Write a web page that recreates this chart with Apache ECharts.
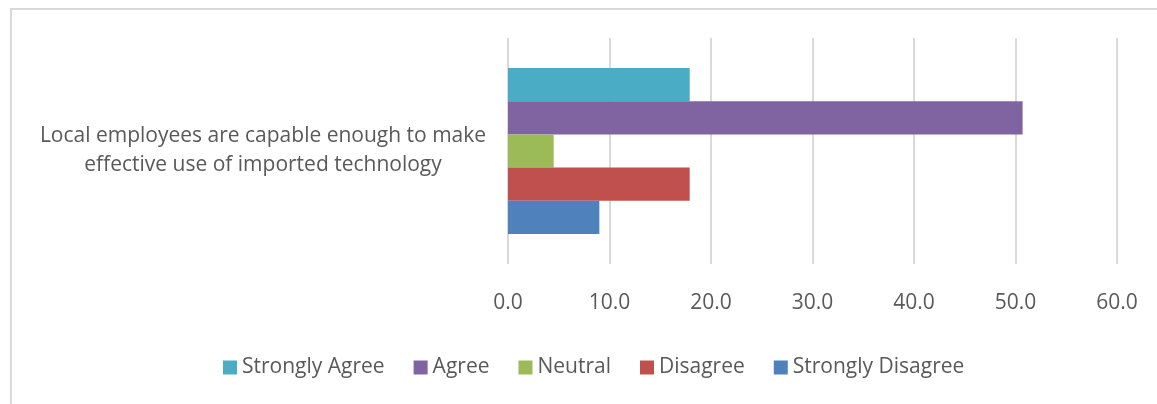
<!DOCTYPE html>
<html>
<head>
<meta charset="utf-8">
<title>Local employees and imported technology</title>
<script src="https://cdn.jsdelivr.net/npm/echarts@6/dist/echarts.min.js"></script>
<style>
  html, body { margin: 0; padding: 0; background: #ffffff; }
  #chart { width: 1157px; height: 404px; }
</style>
</head>
<body>
<div id="chart"></div>
<script>
// Survey statement shown on the category axis
const categories = ['Local employees are capable enough to make\neffective use of imported technology'];

// Response shares (%) per answer
const seriesNames = ['Strongly Agree', 'Agree', 'Neutral', 'Disagree', 'Strongly Disagree'];
const stronglyAgree = [17.9];
const agree = [50.7];
const neutral = [4.5];
const disagree = [17.9];
const stronglyDisagree = [9.0];

const seriesValues = [stronglyAgree, agree, neutral, disagree, stronglyDisagree];
const seriesColors = ['#4bacc6', '#8064a2', '#9bbb59', '#c0504d', '#4f81bd'];

const textColor = '#595959';
const fontFamily = 'Open Sans, Liberation Sans, sans-serif';

const chart = echarts.init(document.getElementById('chart'), null, { renderer: 'canvas' });

chart.setOption({
  animation: false,
  backgroundColor: '#ffffff',
  graphic: [{
    type: 'rect',
    shape: { x: 11, y: 9, width: 1300, height: 600 },
    style: { fill: 'none', stroke: '#d9d9d9', lineWidth: 2 },
    silent: true
  }],
  grid: { left: 508, right: 40, top: 38, bottom: 140, containLabel: false },
  legend: {
    data: seriesNames,
    bottom: 21,
    left: 218,
    itemWidth: 14,
    itemHeight: 14,
    itemGap: 29,
    icon: 'rect',
    textStyle: { color: textColor, fontSize: 21, fontFamily: fontFamily }
  },
  xAxis: {
    type: 'value',
    min: 0,
    max: 60,
    interval: 10,
    axisLine: { show: false },
    axisTick: { show: false },
    axisLabel: {
      color: textColor,
      fontSize: 21,
      fontFamily: fontFamily,
      margin: 29,
      formatter: v => v.toFixed(1)
    },
    splitLine: { show: true, lineStyle: { color: '#d9d9d9', width: 2 } }
  },
  yAxis: {
    type: 'category',
    data: categories,
    inverse: true,
    axisLine: { show: false },
    axisTick: { show: false },
    axisLabel: {
      color: textColor,
      fontSize: 21,
      fontFamily: fontFamily,
      lineHeight: 29,
      align: 'center',
      margin: 245
    }
  },
  series: seriesNames.map((name, i) => ({
    name: name,
    type: 'bar',
    data: seriesValues[i],
    barGap: '0%',
    barCategoryGap: '26.5%',
    itemStyle: { color: seriesColors[i] }
  }))
});
</script>
</body>
</html>
